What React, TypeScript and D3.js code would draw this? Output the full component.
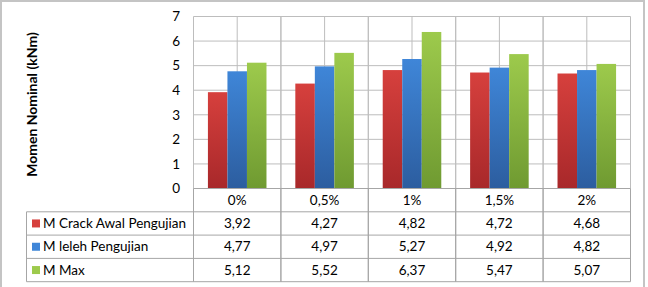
import { useEffect, useRef } from 'react';
import * as d3 from 'd3';

const categories = ['0%', '0,5%', '1%', '1,5%', '2%'];
const seriesNames = ['M Crack Awal Pengujian', 'M leleh Pengujian', 'M Max'];
const crackValues = [3.92, 4.27, 4.82, 4.72, 4.68];
const lelehValues = [4.77, 4.97, 5.27, 4.92, 4.82];
const maxValues = [5.12, 5.52, 6.37, 5.47, 5.07];
const yTicks = [0, 1, 2, 3, 4, 5, 6, 7];
const colors = [
  { top: '#d6403d', bottom: '#a8282a' },
  { top: '#3f86d8', bottom: '#2c5d9f' },
  { top: '#9dca4c', bottom: '#6f9a31' },
];

export default function App() {
  const svgRef = useRef<SVGSVGElement>(null);

  useEffect(() => {
    const svg = d3.select(svgRef.current);
    svg.selectAll('*').remove();

    const width = 648;
    const height = 287;
    const font = 'Lato, "Open Sans", sans-serif';
    const fs = '13.5px';
    const series = [crackValues, lelehValues, maxValues];

    const left = 193.5;
    const right = 630.5;
    const top = 16.5;
    const bottom = 188.5;
    const rowH = 23.3;

    // frame
    svg.append('rect')
      .attr('x', 1).attr('y', 1)
      .attr('width', 643).attr('height', 290)
      .attr('fill', 'white')
      .attr('stroke', '#c4c4c4').attr('stroke-width', 2);

    const x = d3.scaleBand().domain(categories).range([left, right]);
    const y = d3.scaleLinear().domain([0, 7]).range([bottom, top]);
    const bw = x.bandwidth();
    const inner = d3.scaleBand()
      .domain(series.map((_, i) => String(i)))
      .range([bw * 0.165, bw * 0.835]);

    // gradients
    const defs = svg.append('defs');
    colors.forEach((c, i) => {
      const g = defs.append('linearGradient')
        .attr('id', `grad${i}`)
        .attr('x1', 0).attr('y1', 0).attr('x2', 0).attr('y2', 1);
      g.append('stop').attr('offset', '0%').attr('stop-color', c.top);
      g.append('stop').attr('offset', '100%').attr('stop-color', c.bottom);
    });

    // gridlines
    const grid = svg.append('g').attr('stroke', '#bdbdbd').attr('stroke-width', 1);
    yTicks.forEach(t => {
      grid.append('line')
        .attr('x1', left).attr('x2', right)
        .attr('y1', y(t)).attr('y2', y(t));
    });
    categories.forEach(c => {
      const x0 = x(c)!;
      [x0, x0 + bw / 2, x0 + bw].forEach(xx => {
        grid.append('line')
          .attr('x1', xx).attr('x2', xx)
          .attr('y1', top).attr('y2', bottom);
      });
    });

    // bars
    series.forEach((vals, si) => {
      svg.append('g')
        .selectAll('rect')
        .data(vals)
        .enter()
        .append('rect')
        .attr('x', (d, i) => x(categories[i])! + inner(String(si))!)
        .attr('y', d => y(d))
        .attr('width', inner.bandwidth())
        .attr('height', d => bottom - y(d))
        .attr('fill', `url(#grad${si})`);
    });

    // y tick labels
    yTicks.forEach(t => {
      svg.append('text')
        .attr('x', 180).attr('y', y(t))
        .attr('dy', '0.35em')
        .attr('text-anchor', 'end')
        .style('font-family', font)
        .style('font-size', fs)
        .attr('fill', '#000')
        .text(t);
    });

    // axis title
    svg.append('text')
      .attr('transform', `translate(37, ${(top + bottom) / 2 + 2}) rotate(-90)`)
      .attr('text-anchor', 'middle')
      .style('font-family', font)
      .style('font-size', '14px')
      .style('font-weight', 'bold')
      .text('Momen Nominal (kNm)');

    // data table
    const tbl = svg.append('g');
    const lineColor = '#a6a6a6';
    const tableLeft = 26.5;
    const tableBottom = bottom + rowH * 4;

    // horizontal lines
    [0, 1, 2, 3, 4].forEach(r => {
      const yy = bottom + rowH * r;
      tbl.append('line')
        .attr('x1', r === 0 ? left : tableLeft).attr('x2', right)
        .attr('y1', yy).attr('y2', yy)
        .attr('stroke', lineColor);
    });
    // vertical lines
    tbl.append('line')
      .attr('x1', tableLeft).attr('x2', tableLeft)
      .attr('y1', bottom + rowH).attr('y2', tableBottom)
      .attr('stroke', lineColor);
    categories.forEach(c => {
      [x(c)!, x(c)! + bw].forEach(xx => {
        tbl.append('line')
          .attr('x1', xx).attr('x2', xx)
          .attr('y1', bottom).attr('y2', tableBottom)
          .attr('stroke', lineColor);
      });
    });

    // header
    categories.forEach(c => {
      tbl.append('text')
        .attr('x', x(c)! + bw / 2)
        .attr('y', bottom + rowH / 2)
        .attr('dy', '0.35em')
        .attr('text-anchor', 'middle')
        .style('font-family', font)
        .style('font-size', fs)
        .text(c);
    });

    // rows
    series.forEach((vals, si) => {
      const yy = bottom + rowH * (si + 1) + rowH / 2;
      tbl.append('rect')
        .attr('x', 32).attr('y', yy - 4)
        .attr('width', 8).attr('height', 8)
        .attr('fill', colors[si].top);
      tbl.append('text')
        .attr('x', 43).attr('y', yy)
        .attr('dy', '0.35em')
        .style('font-family', font)
        .style('font-size', fs)
        .text(seriesNames[si]);
      vals.forEach((v, i) => {
        tbl.append('text')
          .attr('x', x(categories[i])! + bw / 2)
          .attr('y', yy)
          .attr('dy', '0.35em')
          .attr('text-anchor', 'middle')
          .style('font-family', font)
          .style('font-size', fs)
          .text(v.toFixed(2).replace('.', ','));
      });
    });

    svg.attr('width', width).attr('height', height);
  }, []);

  return (
    <div style={{ position: 'absolute', left: 0, top: 0 }}>
      <svg ref={svgRef} width={648} height={287} style={{ display: 'block' }}></svg>
    </div>
  );
}
